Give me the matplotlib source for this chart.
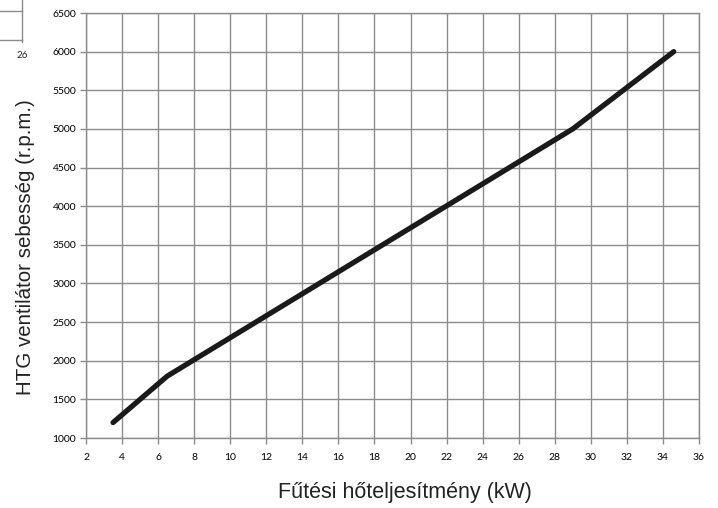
import matplotlib
matplotlib.use("Agg")
import matplotlib.pyplot as plt
from matplotlib.lines import Line2D

# Fan speed curve vs. heating output
power_kw = [3.5, 6.5, 29.0, 34.6]
fan_rpm = [1200, 1800, 5000, 6000]

x_ticks = list(range(2, 37, 2))
y_ticks = list(range(1000, 6501, 500))

x_label = "Fűtési hőteljesítmény (kW)"
y_label = "HTG ventilátor sebesség (r.p.m.)"

grid_col = "#8c8c8c"

fig = plt.figure(figsize=(7.18, 5.08), dpi=100)
W, H = 718, 508
left, right, top, bottom = 86, 699, 13, 438
ax = fig.add_axes([left / W, 1 - bottom / H, (right - left) / W, (bottom - top) / H])

ax.plot(power_kw, fan_rpm, color="#1a1a1a", lw=3.8, solid_capstyle="round",
        solid_joinstyle="round", zorder=3)

ax.set_xlim(2, 36)
ax.set_ylim(1000, 6500)
ax.set_xticks(x_ticks)
ax.set_yticks(y_ticks)
ax.set_xticklabels([str(v) for v in x_ticks], family="Lato", fontsize=7.5)
ax.set_yticklabels([str(v) for v in y_ticks], family="Lato", fontsize=7.5)
ax.grid(True, color=grid_col, lw=1.0)
ax.set_axisbelow(True)
ax.tick_params(axis="both", direction="out", length=4, width=1.0, color=grid_col)
ax.tick_params(axis="x", pad=7)
ax.tick_params(axis="y", pad=3)
for sp in ax.spines.values():
    sp.set_color(grid_col)
    sp.set_linewidth(1.0)

fig.text(405 / W, 1 - 498 / H, x_label, ha="center", va="baseline",
         family="Liberation Sans", fontsize=15.5, color="#222222")
fig.text(31 / W, 1 - 247 / H, y_label, ha="center", va="baseline", rotation=90,
         rotation_mode="anchor", family="Liberation Sans", fontsize=14.8,
         color="#222222")

# Page fragment in the upper-left corner
for seg in ([(0, 22), (10.5, 10.5)], [(0, 22), (39.5, 39.5)], [(22, 22), (0, 42)]):
    fig.add_artist(Line2D([p / W for p in seg[0]], [1 - p / H for p in seg[1]],
                          color=grid_col, lw=1.0))
fig.text(22 / W, 1 - 55 / H, "26", ha="center", va="center", family="Lato",
         fontsize=7, color="#222222")

fig.savefig("out.png", dpi=100)
